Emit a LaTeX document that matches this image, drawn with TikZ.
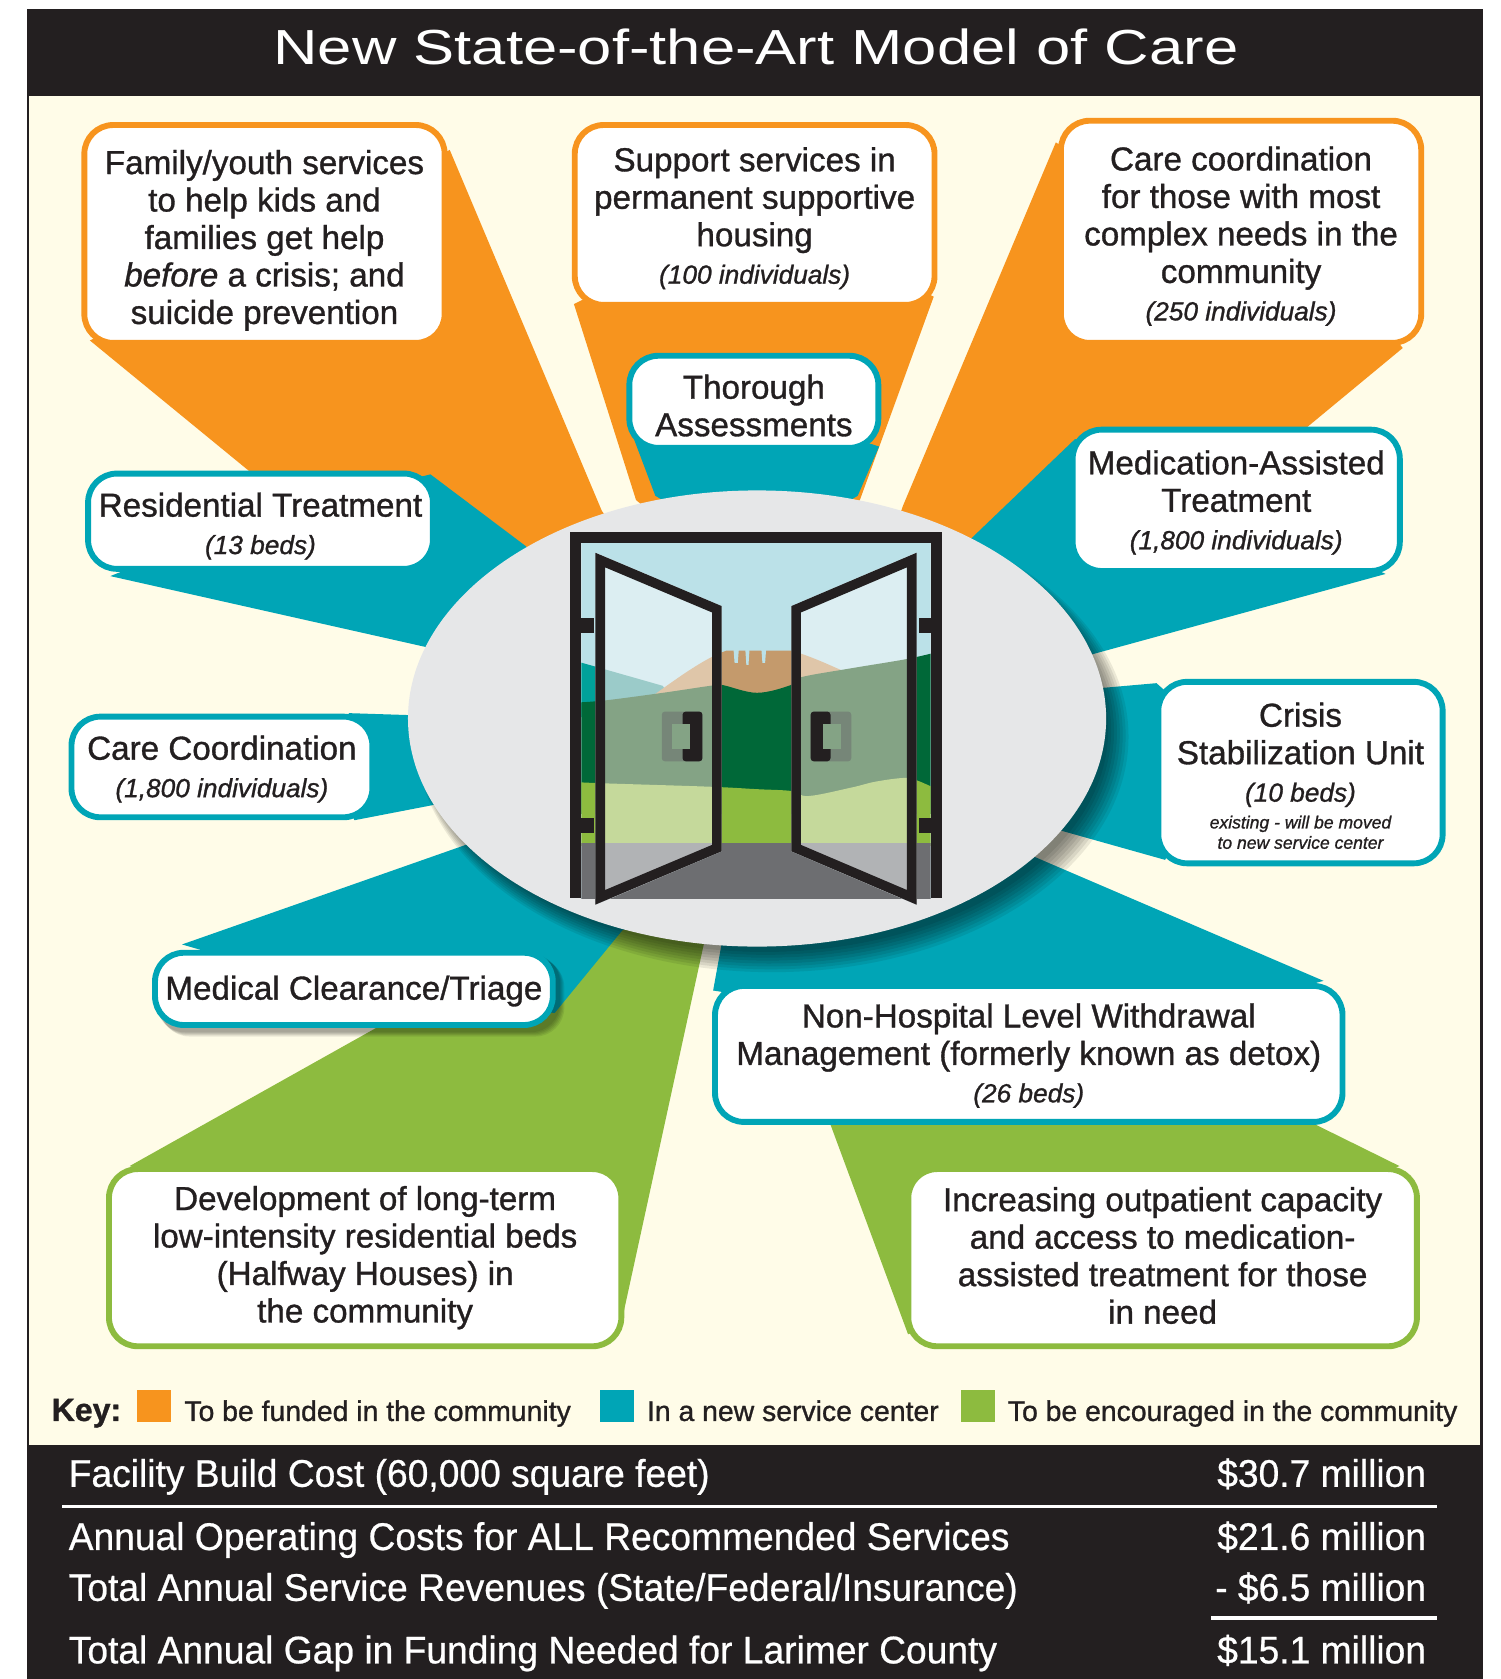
\documentclass[tikz,border=0pt]{standalone}
\usepackage{fontspec}
\setmainfont{Liberation Sans}[FakeStretch=1.0,FakeBold=1]
\newfontfamily\titlefont{Liberation Sans}[FakeStretch=1.25]
\newfontfamily\costfont{Liberation Sans}[FakeStretch=0.965,FakeBold=0.6]
\usetikzlibrary{shapes.geometric}
\definecolor{ink}{RGB}{35,31,32}
\definecolor{cream}{RGB}{255,252,232}
\definecolor{orng}{RGB}{247,148,30}
\definecolor{tealc}{RGB}{0,165,182}
\definecolor{grn}{RGB}{141,187,63}
\definecolor{oval}{RGB}{230,231,232}
\definecolor{skyA}{RGB}{187,225,232}
\definecolor{skyB}{RGB}{220,238,242}
\definecolor{hillA}{RGB}{0,161,154}
\definecolor{hillB}{RGB}{155,203,201}
\definecolor{tanA}{RGB}{196,154,108}
\definecolor{tanB}{RGB}{223,198,169}
\definecolor{dgA}{RGB}{0,104,56}
\definecolor{dgB}{RGB}{132,163,133}
\definecolor{mdA}{RGB}{141,187,63}
\definecolor{mdB}{RGB}{197,217,155}
\definecolor{flA}{RGB}{109,110,113}
\definecolor{flB}{RGB}{177,179,181}
\definecolor{plate}{RGB}{118,134,120}
\newcommand\scenery[6]{%
  \fill[#1] (540,500) rectangle (875,850);
  \fill[#2] (540,618) -- (619,640.5) -- (630,660) -- (540,670) -- cycle;
  \fill[#3] (608,655) -- (612,648) .. controls (640,628) and (660,614) .. (678.7,607.5) -- (738.2,607.5) .. controls (755,612) and (770,619) .. (786,626) -- (800,650) -- cycle;
  \fill[#1] (685,606) -- (690,606) -- (689,619) -- (686,619) -- cycle;
  \fill[#1] (696,606) -- (700,606) -- (699,621) -- (697,621) -- cycle;
  \fill[#1] (711,606) -- (715.5,606) -- (714.5,619) -- (712,619) -- cycle;
  \fill[#4] plot[smooth, tension=0.6] coordinates {(540,656) (566,654) (619,647) (663,640.5) (674,639.6) (707,647) (739,639.6) (748,632.5) (795.5,624) (846,615.6) (875,609)} -- (875,760) -- (540,760) -- cycle;
  \fill[#5] plot[smooth, tension=0.6] coordinates {(540,730.5) (566,731.6) (663,734.7) (707,737) (739,738.7) (755,743.4) (795.5,735.4) (817.5,730) (844,726.5) (856,728.7) (875,737)} -- (875,790) -- (540,790) -- cycle;
  \fill[#6] (540,787) rectangle (875,850);
}
\newcommand\smit[1]{{\fontsize{24.5}{28}\selectfont\itshape #1}}
\newcommand\crnote[1]{{\fontsize{16.4}{19}\selectfont\itshape #1}}
\tikzset{
  svcbox/.style={draw=#1, line width=5.5pt, rounded corners=27pt, fill=white, inner sep=0pt},
  svctxt/.style={text=ink, align=center, inner sep=0pt, font=\fontsize{31}{35}\selectfont},
  keysq/.style={fill=#1, minimum width=32pt, minimum height=30pt, inner sep=0pt},
  keytxt/.style={anchor=base west, text=ink, font=\fontsize{26.5}{30}\selectfont, inner sep=0pt},
  costl/.style={anchor=base west, text=white, font=\costfont\fontsize{36}{40}\selectfont, inner sep=0pt},
  costr/.style={anchor=base east, text=white, font=\costfont\fontsize{36}{40}\selectfont, inner sep=0pt},
  rule/.style={white, line width=3.3pt},
}
\begin{document}
\begin{tikzpicture}[x=1pt,y=-1pt]
\useasboundingbox (0,0) rectangle (1401,1568);
\fill[white] (0,0) rectangle (1401,1568);
\fill[cream] (25,89) rectangle (1385,1350);
\draw[ink,line width=2.5pt] (26.25,89) -- (26.25,1350) (1383.75,89) -- (1383.75,1350);
\fill[ink] (25,8) rectangle (1385,89.5);
\fill[ink] (25,1349.5) rectangle (1385,1568);

% ---- orange beams
\fill[orng] (84,318) -- (300,200) -- (420,140) -- (562,477) -- (650,600) -- (506,664) -- cycle;
\fill[orng] (536,284) -- (594,467) -- (707,560) -- (803,467) -- (872,277) -- (705,200) -- cycle;
\fill[orng] (1100,200) -- (986,133) -- (843,473) -- (800,600) -- (900,600) -- (1049,541) -- (1223,397) -- (1310,325) -- (1250,250) -- cycle;
% ---- green beams
\fill[grn] (121,1089) -- (353,959) -- (560,843) -- (665,845) -- (657,883) -- (581,1232) -- (400,1180) -- cycle;
\fill[grn] (720,900) -- (848,1246) -- (1000,1200) -- (1307,1089) -- (900,888) -- cycle;
% ---- teal beams
\fill[tealc] (592,410) -- (612,463) -- (707,520) -- (801,463) -- (821,417) -- (705,380) -- cycle;
\fill[tealc] (250,480) -- (402,443) -- (491,510) -- (560,600) -- (450,616) -- (103,538) -- cycle;
\fill[tealc] (1004,410) -- (910,500) -- (850,560) -- (980,622) -- (1294,536) -- (1150,470) -- cycle;
\fill[tealc] (300,700) -- (326,666) -- (450,670) -- (450,743) -- (331,766) -- cycle;
\fill[tealc] (1000,645) -- (1080,638) -- (1150,700) -- (1088,803) -- (960,767) -- cycle;
\fill[tealc] (170,882) -- (435,789) -- (560,760) -- (620,850) -- (581,869) -- (518,946) -- (300,920) -- cycle;
\fill[tealc] (676,870) -- (666,925) -- (1000,980) -- (1236,916) -- (940,789) -- cycle;

% ---- shadows
\foreach \i in {0,...,7} {\fill[black,opacity=0.08] ({714+\i},{681+\i}) ellipse ({321+1.7*\i} and {208+1.7*\i});}
\foreach \i in {0,...,4} {\fill[black,opacity=0.08,rounded corners=27pt] ({146+\i},{891+\i}) rectangle ({523+\i},{964+\i});}

% ---- hub
\node[ellipse, fill=oval, minimum width=652pt, minimum height=426pt, inner sep=0pt] (hub) at (707,671) {};

% ---- door
\begin{scope}
  \clip (543,507) rectangle (869,839);
  \scenery{skyA}{hillA}{tanA}{dgA}{mdA}{flA}
\end{scope}
\begin{scope}
  \clip (556,516) -- (674,566) -- (674,795) -- (556,845) -- cycle;
  \scenery{skyB}{hillB}{tanB}{dgB}{mdB}{flB}
\end{scope}
\begin{scope}
  \clip (856,516) -- (739,566) -- (739,795) -- (856,845) -- cycle;
  \scenery{skyB}{hillB}{tanB}{dgB}{mdB}{flB}
\end{scope}
\fill[ink] (532,497) rectangle (880,507.5);
\fill[ink] (532,497) rectangle (543,839);
\fill[ink] (869,497) rectangle (880,839);
\fill[ink] (543,577) rectangle (555,591);
\fill[ink] (543,764) rectangle (555,778);
\fill[ink] (858,577) rectangle (869,591);
\fill[ink] (858,764) rectangle (869,778);
\draw[ink, line width=9pt, line join=miter] (560.5,523) -- (669.5,569) -- (669.5,792) -- (560.5,838) -- cycle;
\draw[ink, line width=9pt, line join=miter] (851.5,523) -- (743.5,569) -- (743.5,792) -- (851.5,838) -- cycle;
% handles
\fill[plate, rounded corners=3pt] (618,664.5) rectangle (656,711);
\fill[ink, rounded corners=3pt] (637.4,664.5) rectangle (656,711);
\fill[dgB] (628,676) rectangle (644,699.6);
\fill[plate, rounded corners=3pt] (757,664.5) rectangle (795,711);
\fill[ink, rounded corners=3pt] (757,664.5) rectangle (775.6,711);
\fill[dgB] (769,676) rectangle (785,699.6);

% ---- boxes
\node[svcbox=orng, minimum width=336.5pt, minimum height=203.5pt] (family) at (247,218.5) {};
\node[svctxt] (family-t) at ([yshift=-6pt]family.center)
  {Family/youth services\\to help kids and\\families get help\\{\itshape before} a crisis; and\\suicide prevention};
\node[svcbox=orng, minimum width=336pt, minimum height=168pt] (support) at (704.75,200.75) {};
\node[svctxt] (support-t) at ([yshift=-3pt]support.center)
  {Support services in\\permanent supportive\\housing\\\smit{(100 individuals)}};
\node[svcbox=orng, minimum width=336.5pt, minimum height=207.5pt] (complex) at (1159,216.5) {};
\node[svctxt] (complex-t) at ([yshift=-4pt]complex.center)
  {Care coordination\\for those with most\\complex needs in the\\community\\\smit{(250 individuals)}};
\node[svcbox=tealc, minimum width=232.5pt, minimum height=86pt] (assess) at (704,375.25) {};
\node[svctxt] (assess-t) at ([yshift=-3.5pt]assess.center) {Thorough\\Assessments};
\node[svcbox=tealc, minimum width=322pt, minimum height=89pt] (resid) at (243.25,486.75) {};
\node[svctxt] (resid-t) at ([yshift=-4.5pt]resid.center) {Residential Treatment\\\smit{(13 beds)}};
\node[svcbox=tealc, minimum width=305.5pt, minimum height=132pt] (mat) at (1154.5,467.25) {};
\node[svctxt] (mat-t) at ([yshift=-2pt]mat.center) {Medication-Assisted\\Treatment\\\smit{(1,800 individuals)}};
\node[svcbox=tealc, minimum width=281pt, minimum height=94pt] (carecoord) at (207.25,716.25) {};
\node[svctxt] (carecoord-t) at ([yshift=-2pt]carecoord.center) {Care Coordination\\\smit{(1,800 individuals)}};
\node[svcbox=tealc, minimum width=265.5pt, minimum height=169.5pt] (crisis) at (1214.5,721.5) {};
\node[svctxt] (crisis-t) at ([yshift=-3pt]crisis.center)
  {Crisis\\Stabilization Unit\\\smit{(10 beds)}\\[-10pt]\crnote{existing - will be moved}\\[-16pt]\crnote{to new service center}};
\node[svcbox=tealc, minimum width=371.5pt, minimum height=67.5pt] (triage) at (330.5,923.5) {};
\node[svctxt] (triage-t) at ([yshift=-2pt]triage.center) {Medical Clearance/Triage};
\node[svcbox=tealc, minimum width=586pt, minimum height=127pt] (withdraw) at (960.75,984.25) {};
\node[svctxt] (withdraw-t) at ([yshift=-1.5pt]withdraw.center)
  {Non-Hospital Level Withdrawal\\Management (formerly known as detox)\\\smit{(26 beds)}};
\node[svcbox=grn, minimum width=478.5pt, minimum height=165.5pt] (halfway) at (341,1174.5) {};
\node[svctxt] (halfway-t) at (halfway.center)
  {Development of long-term\\low-intensity residential beds\\(Halfway Houses) in\\the community};
\node[svcbox=grn, minimum width=475pt, minimum height=165.5pt] (outpat) at (1085.75,1174.5) {};
\node[svctxt] (outpat-t) at ([yshift=2pt]outpat.center)
  {Increasing outpatient capacity\\and access to medication-\\assisted treatment for those\\in need};

% ---- title
\node[anchor=base, text=white, inner sep=0pt, font=\titlefont\fontsize{46}{50}\selectfont] (title) at (706,60)
  {New State-of-the-Art Model of Care};

% ---- key
\node[anchor=base west, text=ink, inner sep=0pt, font=\bfseries\fontsize{30}{31}\selectfont] (keylbl) at (48,1327) {Key:};
\node[keysq=orng] (keyo) at (144,1313) {};
\node[keytxt] (keyotxt) at (172,1327) {To be funded in the community};
\node[keysq=tealc] (keyt) at (576,1313) {};
\node[keytxt] (keyttxt) at (604,1327) {In a new service center};
\node[keysq=grn] (keyg) at (913,1313) {};
\node[keytxt] (keygtxt) at (941,1327) {To be encouraged in the community};

% ---- costs
\node[costl] (c1) at (64,1388.5) {Facility Build Cost (60,000 square feet)};
\node[costr] (v1) at (1332,1388.5) {\$30.7 million};
\coordinate (r1a) at (58,1407);
\coordinate (r1b) at (1342,1407);
\draw[rule] (r1a) -- (r1b);
\node[costl] (c2) at (64,1447.5) {Annual Operating Costs for ALL Recommended Services};
\node[costr] (v2) at (1332,1447.5) {\$21.6 million};
\node[costl] (c3) at (64,1495) {Total Annual Service Revenues (State/Federal/Insurance)};
\node[costr] (v3) at (1332,1495) {- \$6.5 million};
\coordinate (r2a) at (1131,1511);
\coordinate (r2b) at (1342,1511);
\draw[rule] (r2a) -- (r2b);
\node[costl] (c4) at (64,1553.4) {Total Annual Gap in Funding Needed for Larimer County};
\node[costr] (v4) at (1332,1553.4) {\$15.1 million};
\end{tikzpicture}
\end{document}
